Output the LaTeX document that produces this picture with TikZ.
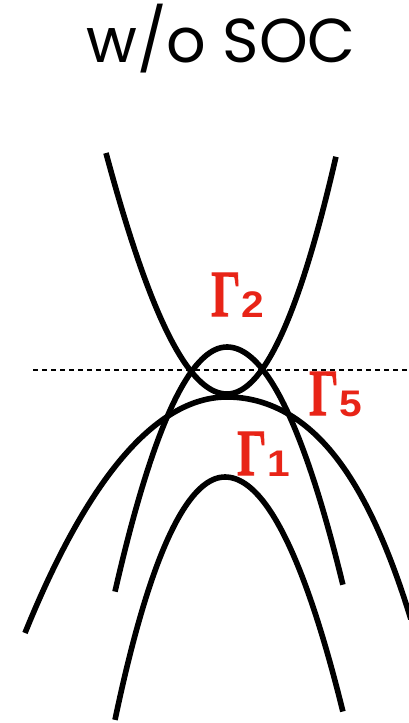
\documentclass[tikz,border=0pt]{standalone}
\usepackage{fontspec}
\setmainfont{Poppins}
\newfontfamily\gamfont{Liberation Serif Bold}[FakeBold=1.5]
\newfontfamily\subfont{Liberation Sans Bold}
\usetikzlibrary{positioning}
\definecolor{irrepred}{HTML}{E82417}
\tikzset{
  band/.style  = {line width=5.6pt, black},
  fermi/.style = {line width=1.8pt, dash pattern=on 5pt off 4pt, black},
  irrep/.style = {text=irrepred, inner sep=0pt, anchor=base west},
  title/.style = {font=\fontsize{62}{66}\selectfont, inner sep=0pt, anchor=base},
}
\newcommand{\irrepname}[1]{%
  \scalebox{0.7}[1]{\fontsize{66}{70}\gamfont Γ}%
  \kern1pt\raisebox{-1.5pt}{\scalebox{1.1}[1]{\fontsize{37}{40}\subfont #1}}}

\begin{document}
\begin{tikzpicture}[x=1pt, y=-1pt,
  declare function={
    condband(\t)  = (\t<0) ? (394-176*\t*\t+7.8*\t*\t*\t*\t) : (394-200*\t*\t);
    innband(\t)   = (\t<0) ? (347+195*\t*\t) : (347+177*\t*\t);
    broadband(\t) = (\t<0) ? (397+54.47*\t*\t+0.824*\t*\t*\t*\t)
                           : (397+42.76*\t*\t+6.79*\t*\t*\t*\t);
    lowband(\t)   = (\t<0) ? (477+185*\t*\t+13*\t*\t*\t*\t)
                           : (477+166*\t*\t+2*\t*\t*\t*\t);
  }]
\useasboundingbox (0,0) rectangle (408,723);

% title
\node (head) [title] at (221,62) {w/o SOC};

% Fermi level
\coordinate (fl) at (33,370);
\coordinate (fr) at (408,370);
\draw [fermi] (fl) -- (fr);

% bands around Gamma
\draw [band] plot[domain=-1.21:1.09, samples=90, smooth] ({227+100*\x}, {condband(\x)});
\draw [band] plot[domain=-1.12:1.16, samples=90, smooth] ({227+100*\x}, {innband(\x)});
\draw [band] plot[domain=-2.02:1.84, samples=120, smooth] ({227+100*\x}, {broadband(\x)});
\draw [band] plot[domain=-1.10:1.18, samples=90, smooth] ({225+100*\x}, {lowband(\x)});

% labels
\node (g2) [irrep] at (211,316) {\irrepname{2}};
\node (g5) [irrep] at (309,415) {\irrepname{5}};
\node (g1) [irrep] at (237,475) {\irrepname{1}};

\end{tikzpicture}
\end{document}
